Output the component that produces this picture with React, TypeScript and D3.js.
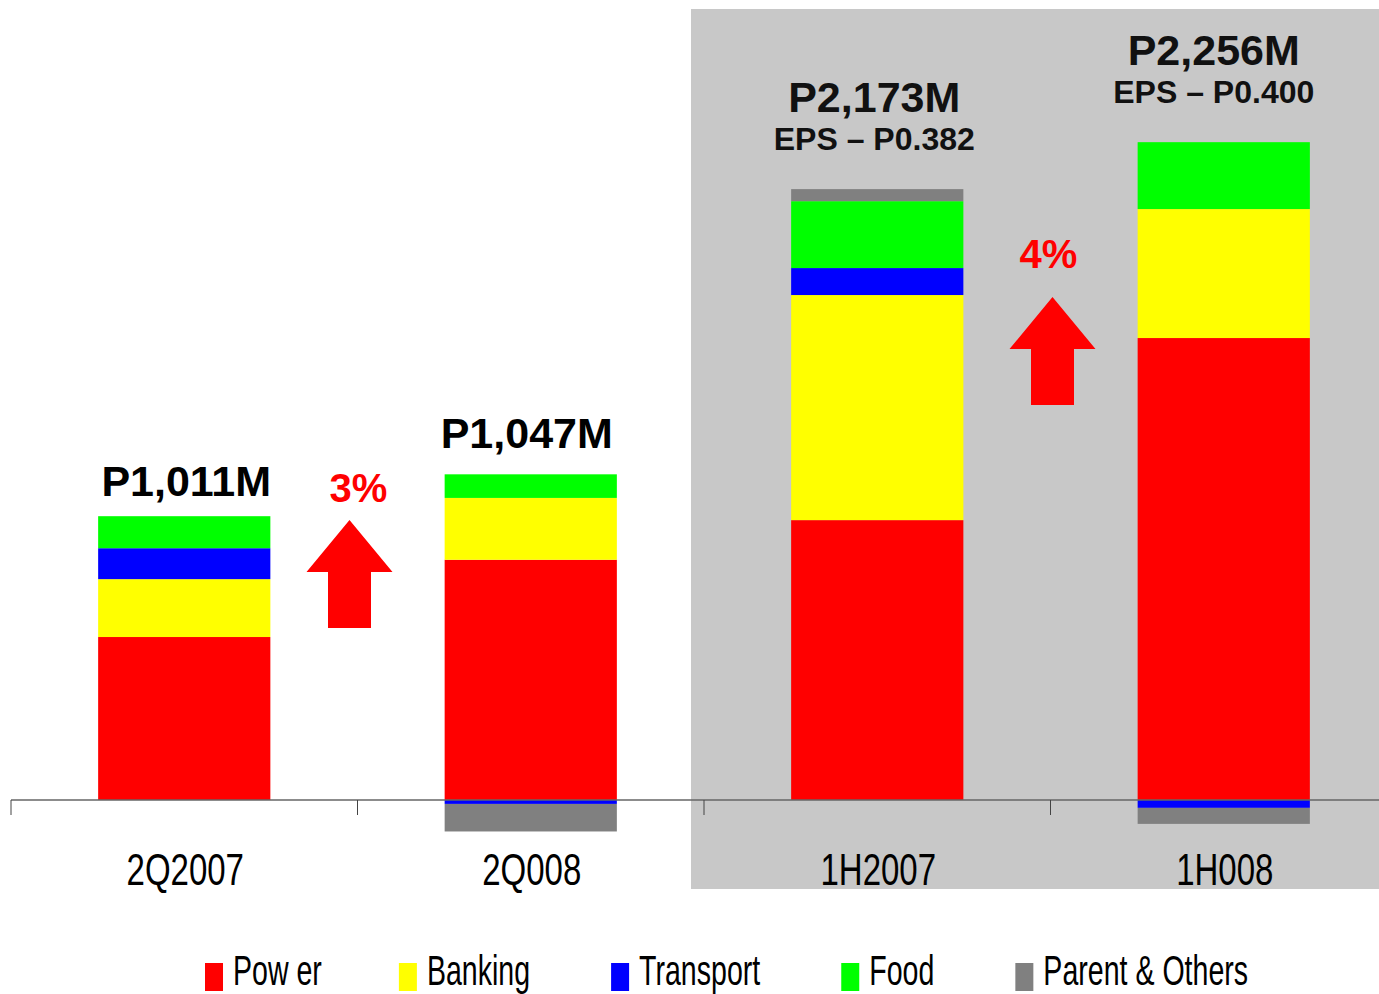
import React from 'react';
import * as d3 from 'd3';

// categories and segment values (P millions)
const categories = ['2Q2007', '2Q008', '1H2007', '1H008'];
const seriesNames = ['Power', 'Banking', 'Transport', 'Food', 'Parent & Others'];
const legendLabels = ['Pow er', 'Banking', 'Transport', 'Food', 'Parent & Others'];
const power = [580, 855, 996, 1644];
const banking = [206, 220, 801, 459];
const transport = [110, -14, 96, -28];
const food = [114, 84, 238, 238];
const parent = [0, -98, 43, -57];
const totalLabels = ['P1,011M', 'P1,047M', 'P2,173M', 'P2,256M'];
const epsLabels = ['', '', 'EPS – P0.382', 'EPS – P0.400'];
const growthLabels = ['3%', '4%'];
const growthTipValue = [996, 1790];
const growthTextValue = [1060, 1893];

const colors = ['#ff0000', '#ffff00', '#0000ff', '#00ff00', '#808080'];

const W = 1379;
const H = 994;
const FONT = '"Liberation Sans", Arial, sans-serif';

const App: React.FC = () => {
  const rows = categories.map((c, i) => ({
    cat: c,
    Power: power[i],
    Banking: banking[i],
    Transport: transport[i],
    Food: food[i],
    'Parent & Others': parent[i],
  }));

  const stack = d3
    .stack<any>()
    .keys(seriesNames)
    .offset(d3.stackOffsetDiverging);
  const layers = stack(rows);

  const xOuter = d3.scaleBand<string>().domain(categories).range([11, 1397]);
  const x = d3
    .scaleBand<string>()
    .domain(categories)
    .range([11, 1397])
    .paddingInner(0.503)
    .paddingOuter(0.2515);
  const y = d3.scaleLinear().domain([0, 2500]).range([800, 97.5]);

  const posTop = categories.map((_, i) =>
    d3.max(layers, (l) => l[i][1]) ?? 0
  );

  // legend layout: measure texts
  const legendFont = 42;
  const legendScale = 0.68;
  let ctx: CanvasRenderingContext2D | null = null;
  if (typeof document !== 'undefined') {
    ctx = document.createElement('canvas').getContext('2d');
    if (ctx) ctx.font = `${legendFont}px ${FONT}`;
  }
  const legendItems: { x: number; label: string; color: string }[] = [];
  let lx = 205;
  legendLabels.forEach((lab, i) => {
    legendItems.push({ x: lx, label: lab, color: colors[i] });
    const tw = (ctx ? ctx.measureText(lab).width : lab.length * 22) * legendScale;
    lx += 18 + 10 + tw + (i === 0 ? 77 : 81);
  });

  const arrowPath = (cx: number, tip: number) => {
    const p = d3.path();
    p.moveTo(cx, tip);
    p.lineTo(cx + 43, tip + 52);
    p.lineTo(cx + 21.5, tip + 52);
    p.lineTo(cx + 21.5, tip + 108);
    p.lineTo(cx - 21.5, tip + 108);
    p.lineTo(cx - 21.5, tip + 52);
    p.lineTo(cx - 43, tip + 52);
    p.closePath();
    return p.toString();
  };
  const growthX = [xOuter(categories[1])! - 8, xOuter(categories[3])! + 2];
  const labelShift = [2, -4, -3, -10];

  return (
    <svg
      width={W}
      height={H}
      style={{ position: 'absolute', left: 0, top: 0, display: 'block', background: '#fff' }}
      fontFamily={FONT}
    >
      {/* shaded half-year panel */}
      <rect x={691} y={9} width={W - 691} height={880} fill="#c8c8c8" />

      {/* stacked bars */}
      {layers.map((layer, li) => (
        <g key={layer.key} fill={colors[li]}>
          {layer.map((d, i) =>
            d[1] - d[0] === 0 ? null : (
              <rect
                key={i}
                x={x(categories[i])}
                width={x.bandwidth()}
                y={y(Math.max(d[0], d[1]))}
                height={Math.abs(y(d[0]) - y(d[1]))}
              />
            )
          )}
        </g>
      ))}

      {/* category axis */}
      <line x1={11} x2={W} y1={y(0)} y2={y(0)} stroke="#666" strokeWidth={1.5} />
      {categories.map((c) => (
        <line
          key={c}
          x1={xOuter(c)}
          x2={xOuter(c)}
          y1={y(0)}
          y2={y(0) + 15}
          stroke="#444"
          strokeWidth={1}
        />
      ))}
      {categories.map((c) => {
        const cx = x(c)! + x.bandwidth() / 2 + 1;
        return (
          <text
            key={c}
            transform={`translate(${cx},885) scale(0.75,1)`}
            textAnchor="middle"
            fontSize={44}
            fill="#000"
          >
            {c}
          </text>
        );
      })}

      {/* totals */}
      {categories.map((c, i) => {
        const cx = x(c)! + x.bandwidth() / 2 + labelShift[i];
        const top = y(posTop[i]);
        const hasEps = epsLabels[i] !== '';
        return (
          <g key={c} textAnchor="middle" fontWeight="bold">
            <text
              x={cx}
              y={hasEps ? top - 77 : top - (i === 0 ? 20 : 26)}
              fontSize={43}
              fill={hasEps ? '#111' : '#000'}
            >
              {totalLabels[i]}
            </text>
            {hasEps && (
              <text x={cx} y={top - 39} fontSize={32} fill="#111">
                {epsLabels[i]}
              </text>
            )}
          </g>
        );
      })}

      {/* growth arrows */}
      {growthLabels.map((g, i) => (
        <g key={g}>
          <text
            x={growthX[i] + (i === 0 ? 9 : -4)}
            y={y(growthTextValue[i])}
            textAnchor="middle"
            fontWeight="bold"
            fontSize={40}
            fill="#ff0000"
          >
            {g}
          </text>
          <path d={arrowPath(growthX[i], y(growthTipValue[i]))} fill="#ff0000" />
        </g>
      ))}

      {/* legend */}
      {legendItems.map((it) => (
        <g key={it.label}>
          <rect x={it.x} y={963} width={18} height={28} fill={it.color} />
          <text
            transform={`translate(${it.x + 28},985) scale(${legendScale},1)`}
            fontSize={legendFont}
            fill="#000"
          >
            {it.label}
          </text>
        </g>
      ))}
    </svg>
  );
};

export default App;
